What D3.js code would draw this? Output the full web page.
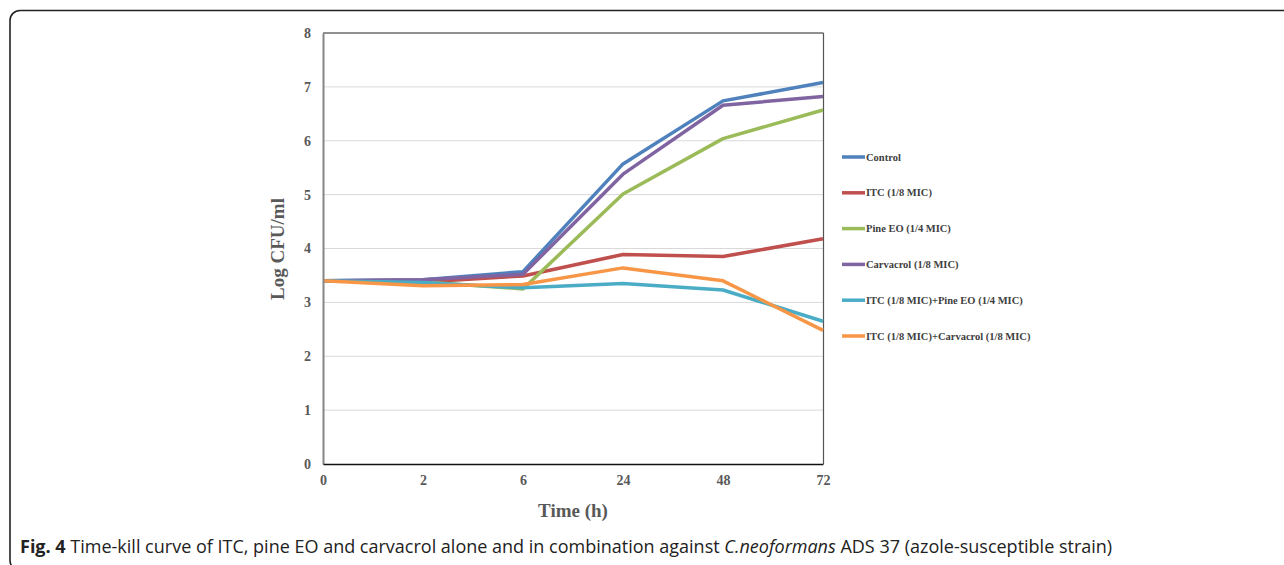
<!DOCTYPE html>
<html>
<head>
<meta charset="utf-8">
<script src="https://cdn.jsdelivr.net/npm/d3@7"></script>
<style>
  body { margin: 0; background: #fff; }
  svg { display: block; }
</style>
</head>
<body>
<svg id="chart" width="1284" height="565"></svg>
<script>
// data
const times = ["0", "2", "6", "24", "48", "72"];
const seriesNames = [
  "Control",
  "ITC (1/8 MIC)",
  "Pine EO (1/4 MIC)",
  "Carvacrol (1/8 MIC)",
  "ITC (1/8 MIC)+Pine EO (1/4 MIC)",
  "ITC (1/8 MIC)+Carvacrol (1/8 MIC)"
];
const control    = [3.40, 3.42, 3.57, 5.57, 6.74, 7.08];
const itc        = [3.40, 3.38, 3.49, 3.89, 3.85, 4.18];
const pineEO     = [3.40, 3.38, 3.25, 5.01, 6.04, 6.57];
const carvacrol  = [3.40, 3.42, 3.52, 5.38, 6.66, 6.82];
const itcPine    = [3.40, 3.37, 3.27, 3.35, 3.23, 2.65];
const itcCarv    = [3.40, 3.31, 3.33, 3.64, 3.40, 2.48];
const yTicks = [0, 1, 2, 3, 4, 5, 6, 7, 8];
const colors = ["#4F81BD", "#C0504D", "#9BBB59", "#8064A2", "#4BACC6", "#F79646"];

const allSeries = [control, itc, pineEO, carvacrol, itcPine, itcCarv];

const svg = d3.select("#chart");

// outer rounded frame (cut off at right and bottom like the page)
svg.append("rect")
  .attr("x", 10).attr("y", 10.5)
  .attr("width", 1320).attr("height", 560)
  .attr("rx", 10)
  .attr("fill", "none")
  .attr("stroke", "#222")
  .attr("stroke-width", 1.6);

const plotLeft = 323, plotRight = 823, plotTop = 33, plotBottom = 464;

const x = d3.scalePoint().domain(times).range([plotLeft, plotRight]);
const y = d3.scaleLinear().domain([0, 8]).range([plotBottom, plotTop]);

// gridlines
svg.append("g")
  .selectAll("line")
  .data(yTicks.slice(1, -1))
  .enter()
  .append("line")
  .attr("x1", plotLeft).attr("x2", plotRight)
  .attr("y1", (d) => y(d)).attr("y2", (d) => y(d))
  .attr("stroke", "#d9d9d9")
  .attr("stroke-width", 1);

// plot box top + right
svg.append("line")
  .attr("x1", plotLeft).attr("x2", plotRight + 0.5)
  .attr("y1", plotTop).attr("y2", plotTop)
  .attr("stroke", "#222").attr("stroke-width", 1.2);
svg.append("line")
  .attr("x1", plotRight + 0.5).attr("x2", plotRight + 0.5)
  .attr("y1", plotTop).attr("y2", plotBottom)
  .attr("stroke", "#555").attr("stroke-width", 1.2);

// series lines
const line = d3.line()
  .x((d, i) => x(times[i]))
  .y((d) => y(d));

svg.append("g")
  .selectAll("path")
  .data(allSeries)
  .enter()
  .append("path")
  .attr("d", line)
  .attr("fill", "none")
  .attr("stroke", (d, i) => colors[i])
  .attr("stroke-width", 3.5)
  .attr("stroke-linejoin", "round");

// y axis
const yAxis = svg.append("g")
  .attr("transform", `translate(${plotLeft},0)`)
  .call(d3.axisLeft(y).tickValues(yTicks).tickSize(0).tickPadding(12));
yAxis.select(".domain").attr("stroke", "#868686").attr("stroke-width", 2);
yAxis.selectAll("text")
  .attr("font-family", "'Liberation Serif', 'Times New Roman', serif")
  .attr("font-weight", "bold")
  .attr("font-size", 14)
  .attr("fill", "#595959");

// x axis
const xAxis = svg.append("g")
  .attr("transform", `translate(0,${plotBottom})`)
  .call(d3.axisBottom(x).tickSize(0).tickPadding(11));
xAxis.select(".domain").attr("stroke", "#111").attr("stroke-width", 1.6);
xAxis.selectAll("text")
  .attr("font-family", "'Liberation Serif', 'Times New Roman', serif")
  .attr("font-weight", "bold")
  .attr("font-size", 14)
  .attr("fill", "#595959");

// axis titles
svg.append("text")
  .attr("x", (plotLeft + plotRight) / 2)
  .attr("y", 517)
  .attr("text-anchor", "middle")
  .attr("font-family", "'Liberation Serif', 'Times New Roman', serif")
  .attr("font-weight", "bold")
  .attr("font-size", 19)
  .attr("fill", "#595959")
  .text("Time (h)");

svg.append("text")
  .attr("transform", `translate(284,249) rotate(-90)`)
  .attr("text-anchor", "middle")
  .attr("font-family", "'Liberation Serif', 'Times New Roman', serif")
  .attr("font-weight", "bold")
  .attr("font-size", 19)
  .attr("fill", "#595959")
  .text("Log CFU/ml");

// legend
const legend = svg.append("g")
  .selectAll("g")
  .data(seriesNames)
  .enter()
  .append("g")
  .attr("transform", (d, i) => `translate(842,${157 + i * 35.8})`);

legend.append("line")
  .attr("x1", 0).attr("x2", 23)
  .attr("y1", 0).attr("y2", 0)
  .attr("stroke", (d, i) => colors[i])
  .attr("stroke-width", 3.5);

legend.append("text")
  .attr("x", 24)
  .attr("y", 3.5)
  .attr("font-family", "'Liberation Serif', 'Times New Roman', serif")
  .attr("font-weight", "bold")
  .attr("font-size", 10.5)
  .attr("fill", "#404040")
  .text((d) => d);

// caption
const cap = svg.append("text")
  .attr("x", 20)
  .attr("y", 553)
  .attr("font-family", "'Open Sans', 'Noto Sans', sans-serif")
  .attr("font-size", 18)
  .attr("fill", "#222");
cap.append("tspan").attr("font-weight", "bold").text("Fig. 4");
cap.append("tspan").text(" Time-kill curve of ITC, pine EO and carvacrol alone and in combination against ");
cap.append("tspan").attr("font-style", "italic").text("C.neoformans");
cap.append("tspan").text(" ADS 37 (azole-susceptible strain)");
</script>
</body>
</html>
